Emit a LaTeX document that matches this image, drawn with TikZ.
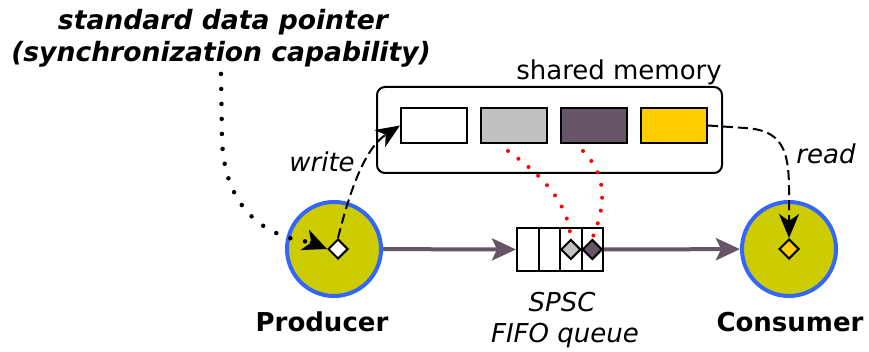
\documentclass[tikz,border=0pt]{standalone}
\usepackage{fontspec}
\setmainfont{DejaVu Sans}
\usetikzlibrary{arrows.meta,shapes.geometric}
\definecolor{olive}{HTML}{CCCC00}
\definecolor{ringblue}{HTML}{3366FF}
\definecolor{plum}{HTML}{665566}
\definecolor{lgray}{HTML}{C0C0C0}
\definecolor{gold}{HTML}{FFCC00}
\tikzset{
  proc/.style={circle, fill=olive, draw=ringblue, line width=4pt, minimum size=94pt, inner sep=0pt},
  diam/.style={diamond, draw=black, line width=2pt, minimum width=20pt, minimum height=20pt, inner sep=0pt},
  cell/.style={rectangle, draw=black, line width=2pt, minimum width=21.5pt, minimum height=43pt, inner sep=0pt},
  membox/.style={rectangle, draw=black, line width=2pt, minimum width=66pt, minimum height=35pt, inner sep=0pt},
  flow/.style={draw=plum, line width=4pt, -{Stealth[length=24pt,width=22pt,inset=5pt]}},
  dsh/.style={draw=black, line width=2pt, dash pattern=on 10pt off 5pt, -{Stealth[length=24pt,width=20pt,inset=7pt]}},
  reddots/.style={draw=red, line width=4pt, line cap=round, dash pattern=on 0pt off 13pt},
  blackdots/.style={draw=black, line width=4.5pt, line cap=round, dash pattern=on 0pt off 15pt},
  lbl/.style={inner sep=0pt, anchor=base, font=\fontsize{26}{31}\selectfont},
}
\begin{document}
\begin{tikzpicture}[x=1pt,y=-1pt]
\useasboundingbox (0,0) rectangle (869,352);
% shared memory
\node[rectangle, draw=black, line width=2pt, rounded corners=8pt, minimum width=345pt, minimum height=86pt] (sm) at (549.5,130) {};
\node[lbl, anchor=base east] (smlbl) at (722,80) {shared memory};
\node[membox, fill=white] (b1) at (434,125.5) {};
\node[membox, fill=lgray] (b2) at (514,125.5) {};
\node[membox, fill=plum] (b3) at (594,125.5) {};
\node[membox, fill=gold] (b4) at (674,125.5) {};
% producer / consumer
\node[proc] (P) at (334,249) {};
\node[proc] (C) at (789,249) {};
\node[diam, fill=white] (pd) at (338,249) {};
\node[diam, fill=gold] (cd) at (789,249) {};
\node[lbl, font=\fontsize{26}{31}\selectfont\bfseries] (plbl) at (322,331) {Producer};
\node[lbl, font=\fontsize{26}{31}\selectfont\bfseries] (clbl) at (790,331) {Consumer};
% queue
\node[cell] (q1) at (527.75,249.5) {};
\node[cell] (q2) at (549.25,249.5) {};
\node[cell] (q3) at (570.75,249.5) {};
\node[cell] (q4) at (592.25,249.5) {};
\node[diam, fill=lgray] (qd1) at (570.75,249.5) {};
\node[diam, fill=plum] (qd2) at (592.25,249.5) {};
\node[lbl, font=\fontsize{26}{31}\selectfont\itshape] (spsc) at (562,311) {SPSC};
\node[lbl, font=\fontsize{26}{31}\selectfont\itshape] (fifo) at (565,342) {FIFO queue};
% top text
\node[lbl, font=\fontsize{26.6}{31}\selectfont\bfseries\itshape] (top1) at (223,30) {standard data pointer};
\node[lbl, font=\fontsize{26.6}{31}\selectfont\bfseries\itshape] (top2) at (221,62) {(synchronization capability)};
% labels
\node[lbl, font=\fontsize{26}{31}\selectfont\itshape] (wlbl) at (322,172) {write};
\node[lbl, font=\fontsize{26}{31}\selectfont\itshape] (rlbl) at (826,164) {read};
% flows
\draw[flow] (P) -- (q1);
\draw[flow] (q4) -- (C);
% dashed
\draw[dsh] (pd.north) .. controls (350,190) and (365,148) .. (b1.west);
\draw[dsh] (b4.east) -- (745,128) .. controls (782,130) and (789,150) .. (789,190) -- (cd.north);
% red dots
\draw[reddots] (508,151) .. controls (548,180) and (568,205) .. (qd1.north);
\draw[reddots] (583,151) .. controls (612,180) and (602,215) .. (qd2.north);
% black dots
\draw[blackdots] ([yshift=-6pt]top2.south) -- (222,140) .. controls (225,215) and (272,238) .. (310,242);
\draw[black, line width=2pt, -{Stealth[length=24pt,width=22pt,inset=7pt]}] (310,242) -- (pd.west);
\end{tikzpicture}
\end{document}
